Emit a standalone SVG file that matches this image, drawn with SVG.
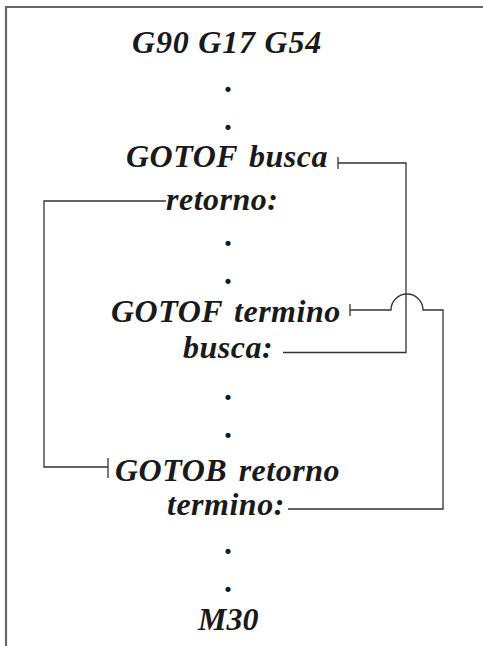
<svg xmlns="http://www.w3.org/2000/svg" width="483" height="646" viewBox="0 0 483 646">
<style>
.t{font-family:"Liberation Serif","Times New Roman",serif;font-weight:bold;font-style:italic;font-size:32px;fill:#1a1a1a;letter-spacing:0.5px;word-spacing:3px}
.d{font-family:"Liberation Serif","Times New Roman",serif;font-weight:bold;font-size:32px;fill:#1a1a1a;text-anchor:middle}
.c{fill:none;stroke:#333;stroke-width:1.3}
.f{fill:none;stroke:#666;stroke-width:2.2}
</style>
<rect width="483" height="646" fill="#fff"/>
<path class="f" d="M6,646 V7 H483"/>
<g id="n1"><text class="t" x="132" y="53" style="word-spacing:0;letter-spacing:0.8px">G90 G17 G54</text></g>
<g id="dots1"><text class="d" x="228" y="92">.</text><text class="d" x="228" y="130">.</text></g>
<g id="n2"><text class="t" x="126" y="167">GOTOF busca</text></g>
<g id="n3"><text class="t" x="166" y="210">retorno:</text></g>
<g id="dots2"><text class="d" x="228" y="246">.</text><text class="d" x="228" y="284">.</text></g>
<g id="n4"><text class="t" x="111" y="322">GOTOF termino</text></g>
<g id="n5"><text class="t" x="183" y="358">busca:</text></g>
<g id="dots3"><text class="d" x="228" y="400">.</text><text class="d" x="228" y="438">.</text></g>
<g id="n6"><text class="t" x="115" y="481">GOTOB retorno</text></g>
<g id="n7"><text class="t" x="167" y="515">termino:</text></g>
<g id="dots4"><text class="d" x="228" y="554">.</text><text class="d" x="228" y="592">.</text></g>
<g id="n8"><text class="t" x="198" y="630" style="letter-spacing:0">M30</text></g>
<g id="connectors">
<path class="c" d="M338,163 H406 V352.5 H283"/>
<path class="c" d="M338,157 V169"/>
<path class="c" d="M166,201 H44 V467 H108"/>
<path class="c" d="M108,458 V478"/>
<path class="c" d="M350,310 H391 A16,16 0 0 1 423,310 H443 V509 H288"/>
<path class="c" d="M350,304 V316"/>
</g>
</svg>
